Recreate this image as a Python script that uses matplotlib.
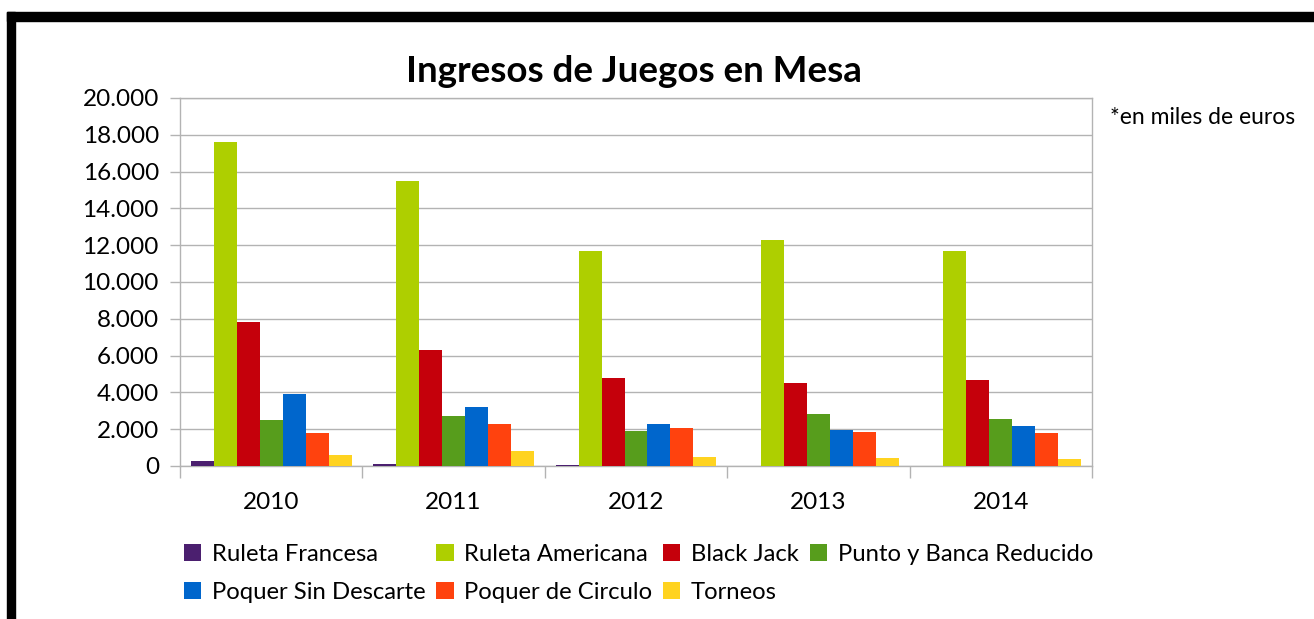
import matplotlib
matplotlib.use("Agg")
import matplotlib.pyplot as plt
import numpy as np
from matplotlib.patches import Rectangle
from matplotlib.ticker import FuncFormatter, FixedLocator

years = ["2010", "2011", "2012", "2013", "2014"]
series_names = ["Ruleta Francesa", "Ruleta Americana", "Black Jack", "Punto y Banca Reducido",
                "Poquer Sin Descarte", "Poquer de Circulo", "Torneos"]
ruleta_francesa = [270, 100, 50, 0, 0]
ruleta_americana = [17600, 15500, 11700, 12300, 11700]
black_jack = [7800, 6300, 4800, 4500, 4650]
punto_banca = [2500, 2700, 1900, 2800, 2550]
poquer_sin_descarte = [3900, 3200, 2300, 1950, 2150]
poquer_circulo = [1800, 2300, 2050, 1850, 1800]
torneos = [600, 800, 500, 450, 400]
colors = ["#4b1f6f", "#aecf00", "#c5000b", "#579d1c", "#0066cc", "#ff420e", "#ffd320"]

data = [ruleta_francesa, ruleta_americana, black_jack, punto_banca,
        poquer_sin_descarte, poquer_circulo, torneos]

plt.rcParams['font.family'] = ['Lato', 'DejaVu Sans']

W, H = 1314, 619
fig = plt.figure(figsize=(W / 100, H / 100), dpi=100)
ax = fig.add_axes([180 / W, 1 - 466 / H, (1092 - 180) / W, (466 - 98) / H])

x = np.arange(len(years))
bw = 0.126
handles = []
for i, (vals, c) in enumerate(zip(data, colors)):
    b = ax.bar(x + (i - 3) * bw, vals, width=bw, color=c, label=series_names[i], zorder=3)
    handles.append(b)

ax.set_xlim(-0.5, len(years) - 0.5)
ax.set_ylim(0, 20000)
ax.set_yticks(np.arange(0, 20001, 2000))
ax.yaxis.set_major_formatter(FuncFormatter(lambda v, p: f"{int(v):,}".replace(",", ".")))
ax.grid(axis='y', color='#b3b3b3', linewidth=1, zorder=0)
ax.set_axisbelow(True)

ax.xaxis.set_major_locator(FixedLocator(np.arange(-0.5, len(years), 1.0)))
ax.xaxis.set_major_formatter(FuncFormatter(lambda v, p: ""))
ax.set_xticks(x, minor=True)
ax.set_xticklabels(years, minor=True)
ax.tick_params(axis='x', which='major', length=8.6, color='#b3b3b3', width=1)
ax.tick_params(axis='x', which='minor', length=0, pad=19, labelsize=17.5)
ax.tick_params(axis='y', length=7.2, color='#b3b3b3', width=1, labelsize=17.5, pad=8)
for s in ax.spines.values():
    s.set_color('#b3b3b3')
    s.set_linewidth(1)

fig.text(634 / W, 1 - 72 / H, "Ingresos de Juegos en Mesa", ha='center', va='center',
         fontsize=26.5, fontweight='bold')
fig.text(1110 / W, 1 - 118 / H, "*en miles de euros", ha='left', va='center', fontsize=16.5)

order = [0, 4, 1, 5, 2, 6, 3]
leg = fig.legend([handles[i] for i in order], [series_names[i] for i in order],
                 ncol=4, loc='upper left', bbox_to_anchor=(184 / W, 1 - 544 / H),
                 frameon=False, fontsize=17.2, handlelength=0.72, handleheight=0.72,
                 handletextpad=0.45, columnspacing=0.45, labelspacing=0.72, borderaxespad=0,
                 borderpad=0)

# black frame
fig.patches.append(Rectangle((7 / W, 1 - 21 / H), 1 - 7 / W, 9 / H, transform=fig.transFigure,
                             color='black', zorder=10))
fig.patches.append(Rectangle((7 / W, 0), 8 / W, 1 - 12 / H, transform=fig.transFigure,
                             color='black', zorder=10))

fig.savefig("out.png", dpi=100)
